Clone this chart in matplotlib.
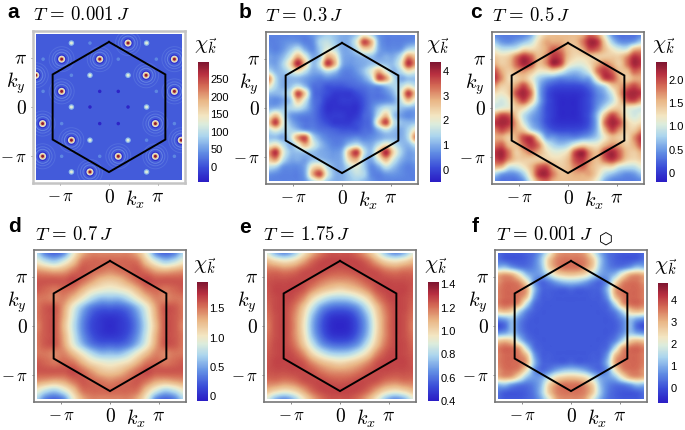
import numpy as np
import matplotlib
matplotlib.use('Agg')
import matplotlib.pyplot as plt
from matplotlib.colors import LinearSegmentedColormap, Normalize
from matplotlib.patches import Rectangle
from matplotlib.cm import ScalarMappable

plt.rcParams['mathtext.fontset'] = 'cm'
plt.rcParams['font.family'] = ['Liberation Sans', 'DejaVu Sans']

W, H = 685, 430

# peak positions of panel a, in units of pi
strong_kx = [.39, -.97, -.19, 1.34, .76, -.97, 1.34, -1.36, .95, -.77, -1.36, .19, .95, -.39, -1.50, 1.48]
strong_ky = [1.31, .98, .98, .98, .65, .32, .32, -.34, -.34, -.68, -1.01, -1.01, -1.01, -1.33, .65, -.68]
weak_kx = [-.77, .77, -.39, .39, -.77, .77, -.39, .39, -.77, .77]
weak_ky = [1.31, 1.31, .65, .65, 0, 0, -.68, -.68, -1.33, -1.33]
faint_kx = [-.39, -1.35, .19, .97, -.77, -1.35, .97, -.97, 1.34, .77, -.97, -.19, 1.34]
faint_ky = [1.31, .98, .98, .98, .65, .32, .32, -.34, -.34, -.68, -1.01, -1.01, -1.01]
dark_kx = [-.19, .19, -.39, .39, -.19, .19]
dark_ky = [.32, .32, 0, 0, -.34, -.34]
chi_a_background = [[8.]]

# panels b, c: upper half, rows ky = 1.5 ... 0, columns kx = -1.5 ... 1.5 (units of pi)
chi_b_upper = [
    [.6, .6, .6, .6, .6, .6, .8, 1.1, 1.3, 1.2, 1.0, 1.0, 1.3, 2.0, 1.5, .8, .6, .6, .6, .6, .6],
    [.6, .6, .7, .8, .8, .6, .7, 1.4, 1.6, 1.3, 1.0, 1.1, 1.9, 3.6, 2.8, 1.0, .6, .6, .6, .7, .8],
    [.7, .6, .8, 1.2, 1.6, 1.0, .7, 1.3, 1.9, 1.6, 1.0, 1.0, 1.5, 2.4, 2.2, 1.0, .7, .7, .8, 1.4, 1.6],
    [.9, .8, 1.1, 1.8, 2.8, 1.9, 1.0, 1.3, 2.8, 2.4, 1.1, .9, 1.0, 1.2, 1.2, .9, 1.0, 1.0, 1.6, 3.0, 2.6],
    [1.0, .9, 1.4, 2.4, 3.9, 2.6, 1.2, 1.7, 3.7, 2.8, 1.1, .8, .9, 1.0, 1.2, 1.3, 1.2, 1.2, 2.0, 3.8, 3.0],
    [1.6, 1.1, 1.2, 1.7, 2.2, 1.6, 1.0, 1.1, 1.6, 1.3, .7, .6, .8, 1.2, 1.9, 2.8, 1.9, 1.1, 1.5, 2.2, 1.9],
    [3.2, 1.5, 1.0, 1.1, 1.1, .9, .7, .6, .7, .6, .5, .5, .6, .9, 1.6, 3.5, 3.0, 1.6, 1.0, 1.2, 1.2],
    [2.2, 1.4, 1.0, 1.2, 1.6, 1.1, .5, .4, .2, .2, .2, .3, .4, .5, .7, .9, 1.2, 1.4, 1.5, 2.0, 1.6],
    [1.2, 1.1, 1.2, 1.7, 3.6, 2.4, .6, .3, .1, -.1, -.1, -.1, .1, .3, .5, .5, .7, 1.1, 1.9, 3.7, 2.6],
    [.8, .7, .9, 1.3, 2.6, 1.7, .6, .3, -.1, -.2, -.1, -.1, -.1, .2, .5, .6, .7, .9, 1.6, 2.6, 1.9],
    [1.0, 1.1, 1.2, 1.4, 1.6, 1.2, .6, .2, -.2, -.2, -.2, -.2, -.2, .2, .6, 1.2, 1.6, 1.4, 1.2, 1.1, 1.0],
]
chi_c_upper = [
    [.4, .35, .35, .35, .4, .6, 1.1, 1.4, 1.5, 1.5, 1.5, 1.5, 1.6, 1.9, 1.7, 1.1, .5, .3, .3, .3, .4],
    [.7, .5, .45, .55, .7, .9, 1.3, 1.6, 1.6, 1.6, 1.5, 1.5, 1.8, 2.2, 2.1, 1.4, .8, .5, .45, .55, .8],
    [1.1, .9, .9, 1.0, 1.3, 1.3, 1.4, 1.6, 1.9, 1.8, 1.5, 1.4, 1.6, 2.0, 1.9, 1.5, 1.2, 1.0, 1.0, 1.5, 1.6],
    [1.4, 1.3, 1.4, 1.8, 2.1, 1.9, 1.5, 1.7, 2.1, 2.0, 1.5, 1.3, 1.3, 1.4, 1.4, 1.4, 1.4, 1.4, 1.7, 2.1, 2.0],
    [1.6, 1.4, 1.5, 1.9, 2.2, 2.0, 1.5, 1.7, 2.2, 2.0, 1.3, 1.1, 1.1, 1.3, 1.6, 1.8, 1.6, 1.4, 1.8, 2.2, 2.1],
    [2.0, 1.6, 1.4, 1.6, 1.7, 1.5, 1.2, 1.2, 1.3, 1.1, .8, .7, .8, 1.1, 1.8, 2.1, 1.9, 1.5, 1.5, 1.9, 1.8],
    [2.1, 1.7, 1.3, 1.4, 1.5, 1.2, .8, .6, .5, .4, .4, .4, .5, .6, 1.3, 2.0, 2.0, 1.6, 1.4, 1.6, 1.6],
    [1.7, 1.4, 1.4, 1.7, 2.0, 1.5, .7, .3, .15, .1, .1, .1, .15, .3, .6, .9, 1.4, 1.6, 1.8, 2.0, 1.8],
    [1.3, 1.2, 1.4, 2.0, 2.2, 1.8, .7, .2, 0, -.05, -.05, -.05, 0, .15, .4, .6, 1.0, 1.6, 2.1, 2.2, 2.1],
    [1.1, 1.0, 1.2, 1.7, 2.0, 1.5, .7, .2, 0, -.1, -.1, -.1, 0, .15, .4, .6, .9, 1.4, 1.9, 2.0, 1.7],
    [1.0, 1.1, 1.2, 1.4, 1.3, .9, .5, .15, 0, -.1, -.1, -.1, 0, .15, .5, .9, 1.3, 1.4, 1.2, 1.1, 1.0],
]
# panels d, e, f: one quadrant, rows ky = 1.5 ... 0, columns kx = 0 ... 1.5
chi_d_quad = [
    [1.45, 1.45, 1.45, 1.3, .95, .4, .25, .35, .7],
    [1.55, 1.55, 1.55, 1.5, 1.2, .9, .7, .8, 1.0],
    [1.45, 1.5, 1.55, 1.6, 1.5, 1.35, 1.3, 1.35, 1.4],
    [1.2, 1.25, 1.4, 1.55, 1.65, 1.6, 1.6, 1.6, 1.6],
    [.95, 1.0, 1.1, 1.3, 1.5, 1.55, 1.5, 1.55, 1.6],
    [.6, .6, .75, 1.0, 1.25, 1.45, 1.45, 1.5, 1.5],
    [.25, .25, .35, .6, .95, 1.35, 1.6, 1.6, 1.5],
    [.05, .08, .2, .45, .85, 1.3, 1.6, 1.6, 1.5],
    [0, .05, .15, .4, .8, 1.25, 1.6, 1.6, 1.45],
]
chi_e_quad = [
    [1.25, 1.25, 1.2, 1.1, .95, .75, .65, .72, .9],
    [1.28, 1.28, 1.27, 1.22, 1.12, 1.02, .98, 1.02, 1.08],
    [1.24, 1.25, 1.27, 1.27, 1.25, 1.2, 1.18, 1.2, 1.2],
    [1.15, 1.16, 1.2, 1.25, 1.27, 1.27, 1.26, 1.26, 1.25],
    [1.0, 1.03, 1.08, 1.16, 1.25, 1.28, 1.28, 1.28, 1.25],
    [.78, .8, .88, 1.0, 1.16, 1.25, 1.28, 1.27, 1.24],
    [.58, .6, .68, .85, 1.05, 1.2, 1.27, 1.27, 1.22],
    [.46, .48, .58, .75, 1.0, 1.17, 1.27, 1.26, 1.2],
    [.43, .45, .55, .72, .98, 1.17, 1.27, 1.26, 1.18],
]
chi_f_quad = [
    [3.4, 3.4, 3.1, 2.0, 1.0, .4, .2, .1, .1, .1, .3],
    [3.6, 3.6, 3.4, 2.7, 1.3, .5, .2, .1, .1, .2, .4],
    [3.6, 3.6, 3.3, 2.6, 1.2, .6, .4, .5, .8, 1.2, 1.1],
    [2.8, 2.7, 2.4, 1.6, .9, .8, 1.2, 2.2, 3.0, 3.2, 3.0],
    [1.3, 1.2, .9, .5, .3, .8, 2.3, 3.3, 3.6, 3.6, 3.3],
    [.3, .2, .2, .2, .3, 1.2, 3.1, 3.6, 3.7, 3.7, 3.5],
    [.1, .1, .1, .15, .2, .9, 2.8, 3.5, 3.7, 3.7, 3.5],
    [.1, .1, .1, .1, .15, .4, 1.6, 3.1, 3.6, 3.7, 3.5],
    [.1, .1, .1, .1, .1, .2, .6, 1.5, 2.6, 2.9, 2.7],
    [.1, .1, .1, .1, .1, .1, .25, .7, 1.3, 1.0, .8],
    [.1, .1, .1, .1, .1, .1, .15, .5, 1.1, .3, 0],
]

letters = ['a', 'b', 'c', 'd', 'e', 'f']
titles = [r'$T\,=\,0.001\,J$', r'$T\,=\,0.3\,J$', r'$T\,=\,0.5\,J$',
          r'$T\,=\,0.7\,J$', r'$T\,=\,1.75\,J$', r'$T\,=\,0.001\,J$']
ranges = [(-43, 300), (-.48, 4.35), (-.2, 2.39), (-.085, 1.95), (.4, 1.42), (-.7, 4.8)]
cbar_ticks = [[0, 50, 100, 150, 200, 250], [0, 1, 2, 3, 4], [0, .5, 1, 1.5, 2],
              [0, .5, 1, 1.5], [.4, .6, .8, 1, 1.2, 1.4], [0, 1, 2, 3, 4]]
cbar_labels = [['0', '50', '100', '150', '200', '250'], ['0', '1', '2', '3', '4'],
               ['0', '0.5', '1.0', '1.5', '2.0'], ['0', '0.5', '1.0', '1.5'],
               ['0.4', '0.6', '0.8', '1.0', '1.2', '1.4'], ['0', '1', '2', '3', '4']]

# frame (left, top), colourbar (left, top, bottom), letter (x, y), title (x, y)
frames = [(33, 31), (266, 32), (492, 32), (34, 250), (264, 250), (495, 250)]
cbars = [(198, 62, 182), (430, 62, 182), (656, 62, 182), (197, 282, 401), (428, 282, 401), (658, 283, 403)]
letter_pos = [(7, 12), (239, 12), (470, 12), (8, 227), (239, 228), (472, 227)]
title_pos = [(33, 15), (265, 16), (492, 16), (35, 235), (263, 235), (496, 235)]

FRAME = 152
HALF = 1.557 * np.pi
IMG = 1.49 * np.pi

cmap = LinearSegmentedColormap.from_list('temp', [
    (0, '#2a1cc4'), (.12, '#3a4cd8'), (.25, '#6390e4'), (.38, '#aad4ee'),
    (.48, '#dcecdc'), (.55, '#f3e6c2'), (.68, '#e9b585'), (.8, '#d46a55'),
    (.9, '#b83040'), (1, '#7d1530')])

fig = plt.figure(figsize=(W / 100, H / 100), dpi=100)


def px_axes(x0, y0, w, h):
    return fig.add_axes([x0 / W, 1 - (y0 + h) / H, w / W, h / H])


def put(x, y, s, **kw):
    kw.setdefault('va', 'center')
    return fig.text(x / W, 1 - y / H, s, **kw)


def upper_to_full(upper):
    upper = np.array(upper, dtype=float)
    return np.vstack([upper, upper[:-1][::-1, ::-1]])


def quad_to_full(quad):
    quad = np.array(quad, dtype=float)
    top = np.hstack([quad[:, :0:-1], quad])
    return np.vstack([top, top[:-1][::-1]])


grids = [None, upper_to_full(chi_b_upper), upper_to_full(chi_c_upper),
         quad_to_full(chi_d_quad), quad_to_full(chi_e_quad), quad_to_full(chi_f_quad)]


def draw_panel_a(ax, norm):
    clip = Rectangle((-IMG, -IMG), 2 * IMG, 2 * IMG, transform=ax.transData)
    ax.imshow(chi_a_background, cmap=cmap, norm=norm, extent=[-IMG, IMG, -IMG, IMG], zorder=1)

    def dots(kx, ky, d_px, value, **kw):
        sc = ax.scatter(np.array(kx) * np.pi, np.array(ky) * np.pi, s=(d_px * .72) ** 2,
                        c=[value] * len(kx), cmap=cmap, norm=norm, linewidths=0, zorder=3, **kw)
        sc.set_clip_path(clip)

    for d_px, alpha in [(25, .2), (19, .3), (14, .45)]:
        sc = ax.scatter(np.array(strong_kx) * np.pi, np.array(strong_ky) * np.pi,
                        s=(d_px * .72) ** 2, facecolors='none', edgecolors='#8fb4ee',
                        linewidths=.7, alpha=alpha, zorder=2)
        sc.set_clip_path(clip)
    dots(strong_kx, strong_ky, 9.5, -25)
    dots(strong_kx, strong_ky, 7, 125)
    dots(strong_kx, strong_ky, 5, 190)
    dots(strong_kx, strong_ky, 3, 290)
    dots(weak_kx, weak_ky, 5.5, 70)
    dots(weak_kx, weak_ky, 3, 125)
    dots(faint_kx, faint_ky, 3.5, 45, alpha=.8)
    dots(dark_kx, dark_ky, 3.5, -35)


for i in range(6):
    left, top = frames[i]
    ax = px_axes(left, top, FRAME, FRAME)
    vmin, vmax = ranges[i]
    norm = Normalize(vmin, vmax)

    if i == 0:
        draw_panel_a(ax, norm)
    else:
        grid = grids[i]
        step = 3.0 / (grid.shape[1] - 1)
        edge = (1.5 + step / 2) * np.pi
        im = ax.imshow(grid, cmap=cmap, norm=norm, interpolation='catrom',
                       extent=[-edge, edge, -edge, edge], zorder=1)
        im.set_clip_path(Rectangle((-IMG, -IMG), 2 * IMG, 2 * IMG, transform=ax.transData))

    # first Brillouin zone
    r = 4 * np.pi / 3
    ang = np.radians(np.arange(90, 451, 60))
    ax.plot(r * np.cos(ang), r * np.sin(ang), color='k', lw=1.4, zorder=5, solid_joinstyle='miter')

    ax.set_xlim(-HALF, HALF)
    ax.set_ylim(-HALF, HALF)
    ax.set_aspect('auto')
    ax.set_xticks([-np.pi, 0, np.pi], [r'$-\,\pi$', r'$0$', r'$\pi$'], fontsize=14)
    ax.set_yticks([-np.pi, 0, np.pi], [r'$-\,\pi$', r'$0$', r'$\pi$'], fontsize=14)
    ax.get_xticklabels()[0].set_fontsize(12)
    ax.get_yticklabels()[0].set_fontsize(12)
    ax.tick_params(length=1.5, width=.6, color='#777777', pad=3)
    spine_col = '#c4c4c4' if i == 0 else '#777777'
    for sp in ax.spines.values():
        sp.set_color(spine_col)
        sp.set_linewidth(1.8 if i == 0 else 1.2)

    cx, cy = left + FRAME / 2, top + FRAME / 2
    put(cx + 26, top + FRAME + 17, r'$k_x$', fontsize=14.5, ha='center')
    put(left - 17, cy - 24, r'$k_y$', fontsize=14.5, ha='center')

    put(letter_pos[i][0], letter_pos[i][1], letters[i], fontsize=15, fontweight='bold', ha='left')
    put(title_pos[i][0], title_pos[i][1], titles[i], fontsize=13.5, ha='left')

    cb_left, cb_top, cb_bot = cbars[i]
    cax = px_axes(cb_left, cb_top, 10.5, cb_bot - cb_top)
    cb = fig.colorbar(ScalarMappable(norm=norm, cmap=cmap), cax=cax)
    cb.outline.set_visible(False)
    cb.set_ticks(cbar_ticks[i], labels=cbar_labels[i])
    cb.ax.tick_params(length=0, pad=1.5, labelsize=8)
    put(cb_left + 8, cb_top - 16, r'$\chi_{\vec{k}}$', fontsize=15, ha='center')

# subscript hexagon of panel f
put(606, 240, '\u2b21', fontsize=11.5, ha='center', family='DejaVu Sans')

fig.savefig('out.png', dpi=100)
